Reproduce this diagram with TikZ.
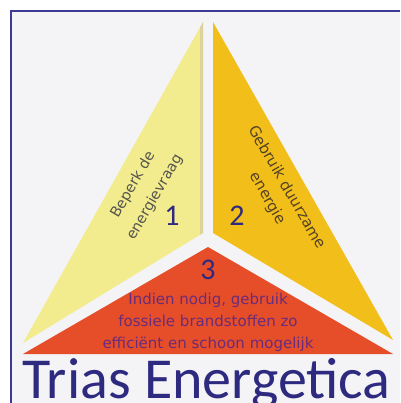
\documentclass[tikz,border=0pt]{standalone}
\usepackage{fontspec}
\setmainfont{DejaVu Sans}
\newfontfamily\titlefont{Carlito}
\definecolor{bggray}{HTML}{F4F4F6}
\definecolor{framecol}{HTML}{3D3A96}
\definecolor{paleyellow}{HTML}{F3EC8E}
\definecolor{tanedge}{HTML}{DCD49C}
\definecolor{goldyellow}{HTML}{F2BE1A}
\definecolor{brickred}{HTML}{E64E2A}
\definecolor{navy}{HTML}{2E2A80}
\definecolor{grtext}{HTML}{55554F}
\definecolor{brtext}{HTML}{554226}
\definecolor{purtext}{HTML}{6A2C78}
\begin{document}
\begin{tikzpicture}[x=1pt,y=-1pt,
	number/.style={font=\titlefont\fontsize{30}{30}\selectfont, text=navy, inner sep=0pt},
	label/.style={font=\fontsize{15}{22}\selectfont, align=center, inner sep=0pt}]
	\useasboundingbox (0,0) rectangle (400,403);
	\fill[bggray] (11,11) rectangle (400,403);
	\draw[framecol, line width=2pt] (11,403)--(11,11)--(400,11);
	% the three parts
	\fill[paleyellow] (203,22)--(203,233)--(23,343)--cycle;
	\fill[tanedge] (200,27)--(203,22)--(203,233)--(200,235)--cycle;
	\fill[goldyellow] (213,22)--(213,233)--(393,340)--cycle;
	\fill[brickred] (208,247)--(393,354)--(23,354)--cycle;
	% numbers
	\node[number] (one) at (172,216) {1};
	\node[number] (two) at (237,216) {2};
	\node[number] (three) at (208,270) {3};
	% texts
	\node[label, font=\fontsize{14.5}{25}\selectfont, text=grtext, rotate=60] (limit) at (144,191) {Beperk de\\energievraag};
	\node[label, text=brtext, rotate=-60] (renew) at (277,193) {Gebruik duurzame\\energie};
	\node[label, text=purtext] (fossil) at (208,322) {Indien nodig, gebruik\\fossiele brandstoffen zo\\efficiënt en schoon mogelijk};
	% title
	\node[font=\titlefont\fontsize{58}{58}\selectfont, text=navy, anchor=base, inner sep=0pt] (title) at (206.5,398) {Trias Energetica};
\end{tikzpicture}
\end{document}
